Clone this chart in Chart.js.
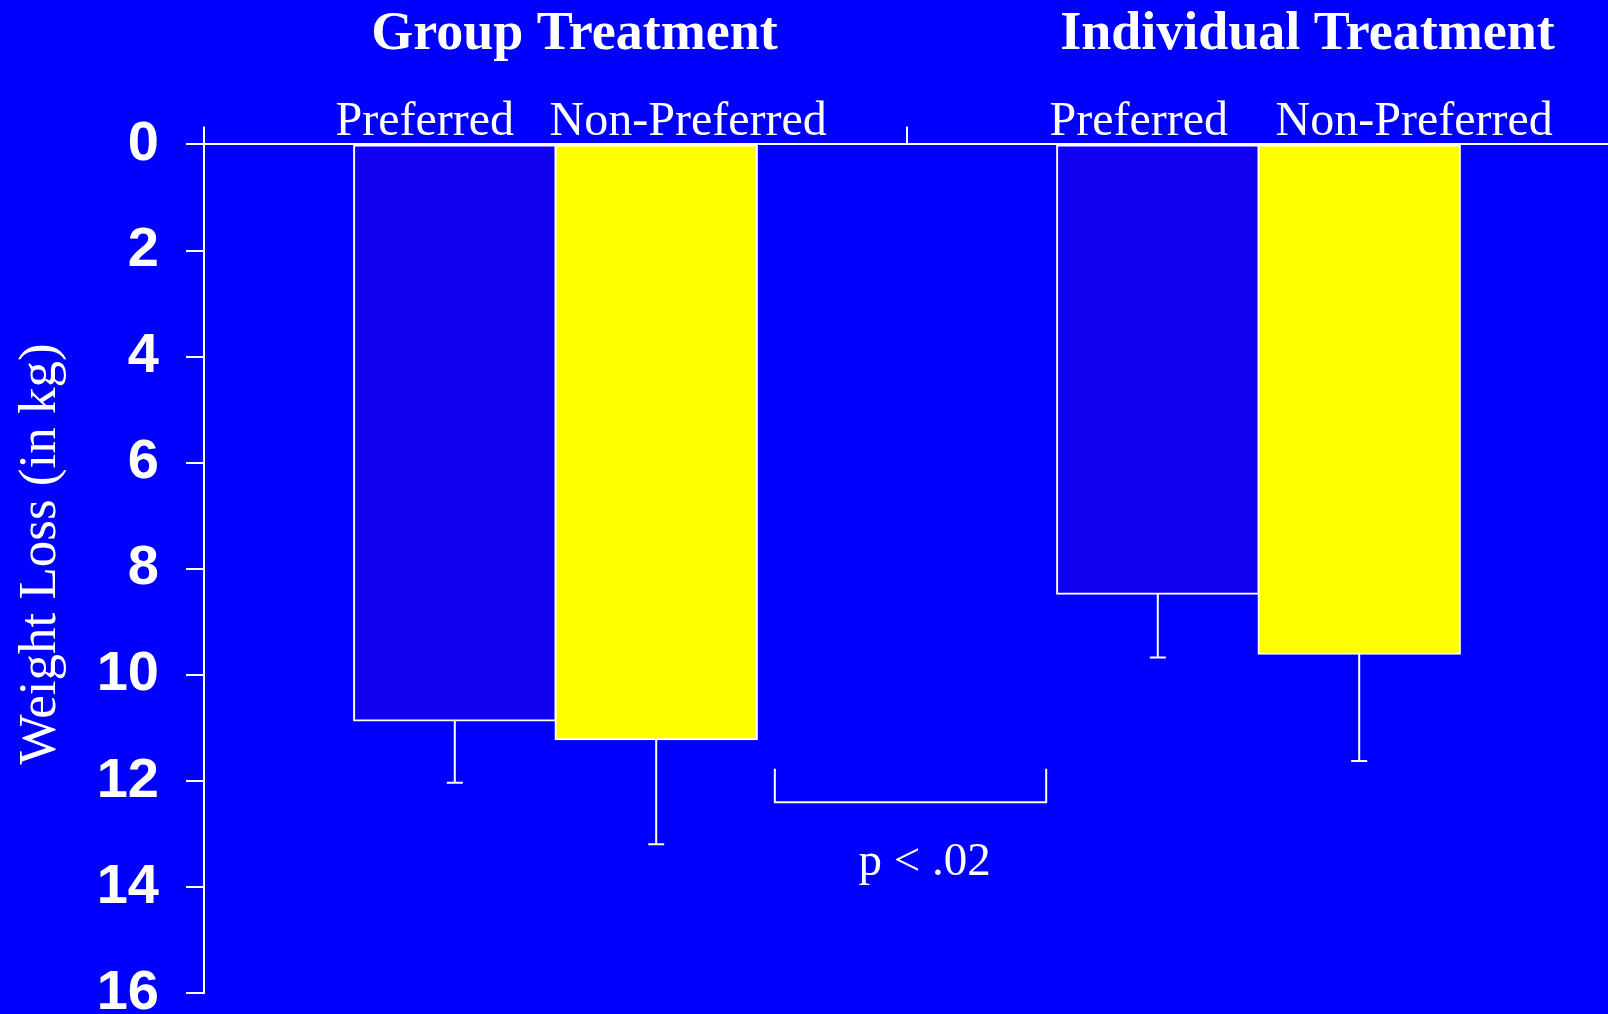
<!DOCTYPE html>
<html>
<head>
<meta charset="utf-8">
<script src="https://cdn.jsdelivr.net/npm/chart.js@4.4.0/dist/chart.umd.min.js"></script>
<style>
  html, body { margin: 0; padding: 0; background: #0000ff; overflow: hidden; width: 1608px; height: 1014px; }
  canvas { display: block; }
</style>
</head>
<body>
<canvas id="bar-chart" width="1620" height="1060"></canvas>
<script>
// weight loss (kg)
const groups = ["Group Treatment", "Individual Treatment"];
const seriesNames = ["Preferred", "Non-Preferred"];
const preferred = [10.86, 8.47];
const nonPreferred = [11.21, 9.60];
const preferredErr = [1.17, 1.20];
const nonPreferredErr = [1.98, 2.02];
const yTicks = [0, 2, 4, 6, 8, 10, 12, 14, 16];
const yTitle = "Weight Loss (in kg)";
// significance bracket between the two non-preferred bars
const bracketX = [0.312, 0.698];
const bracketY = [11.77, 12.40];
const pLabel = "p < .02";
const pPos = [0.525, 13.77];

// hand tuned text offsets (px) from the category / bar centres
const groupTitleShift = [19, 49];
const seriesLabelShift = [[-30, -19], [32, 55]];

const extras = {
  id: 'extras',
  afterDatasetsDraw(chart) {
    const ctx = chart.ctx, xs = chart.scales.x, ys = chart.scales.y;
    ctx.save();
    ctx.strokeStyle = '#fff';
    ctx.fillStyle = '#fff';
    ctx.lineWidth = 2;

    // error whiskers (downward only)
    [preferredErr, nonPreferredErr].forEach((errs, d) => {
      chart.getDatasetMeta(d).data.forEach((bar, i) => {
        const v = chart.data.datasets[d].data[i];
        const y0 = ys.getPixelForValue(v), y1 = ys.getPixelForValue(v + errs[i]);
        ctx.beginPath();
        ctx.moveTo(bar.x, y0);
        ctx.lineTo(bar.x, y1);
        ctx.moveTo(bar.x - 8, y1);
        ctx.lineTo(bar.x + 8, y1);
        ctx.stroke();
      });
    });

    // bracket + p value
    const bx0 = xs.getPixelForValue(bracketX[0]), bx1 = xs.getPixelForValue(bracketX[1]);
    const by0 = ys.getPixelForValue(bracketY[0]), by1 = ys.getPixelForValue(bracketY[1]);
    ctx.beginPath();
    ctx.moveTo(bx0, by0);
    ctx.lineTo(bx0, by1);
    ctx.lineTo(bx1, by1);
    ctx.lineTo(bx1, by0);
    ctx.stroke();

    ctx.textAlign = 'center';
    ctx.textBaseline = 'alphabetic';
    ctx.font = '47px "Liberation Serif"';
    ctx.fillText(pLabel, xs.getPixelForValue(pPos[0]), ys.getPixelForValue(pPos[1]));

    // series labels over each bar
    ctx.font = '48px "Liberation Serif"';
    chart.data.datasets.forEach((ds, d) => {
      chart.getDatasetMeta(d).data.forEach((bar, i) => {
        ctx.fillText(seriesNames[d], bar.x + seriesLabelShift[d][i], 135);
      });
    });

    // group headings
    ctx.font = 'bold 54px "Liberation Serif"';
    groups.forEach((g, i) => {
      ctx.fillText(g, xs.getPixelForValue(i) + groupTitleShift[i], 49);
    });

    // y axis title
    ctx.font = '53px "Liberation Serif"';
    ctx.textBaseline = 'middle';
    ctx.translate(41, ys.getPixelForValue(7.72));
    ctx.rotate(-Math.PI / 2);
    ctx.fillText(yTitle, 0, 0);
    ctx.restore();
  }
};

new Chart(document.getElementById("bar-chart"), {
  type: 'bar',
  data: {
    labels: groups,
    datasets: [
      {
        label: seriesNames[0],
        data: preferred,
        backgroundColor: "#1000f0",
        borderColor: "#ffffff",
        borderWidth: 2,
        borderSkipped: false,
        inflateAmount: 1
      },
      {
        label: seriesNames[1],
        data: nonPreferred,
        backgroundColor: "#ffff00",
        borderColor: "#ffffff",
        borderWidth: 2,
        borderSkipped: false,
        inflateAmount: 1
      }
    ]
  },
  plugins: [extras],
  options: {
    responsive: false,
    animation: false,
    categoryPercentage: 0.573,
    barPercentage: 1,
    layout: { padding: { top: 126.4, left: 69.7, right: 10, bottom: 66.7 } },
    plugins: { legend: { display: false }, tooltip: { enabled: false } },
    scales: {
      x: {
        position: 'top',
        offset: true,
        ticks: { display: false },
        grid: { display: true, offset: true, drawOnChartArea: false, drawTicks: true, tickLength: 18, color: '#ffffff', lineWidth: 2 },
        border: { display: true, color: '#ffffff', width: 2 }
      },
      y: {
        reverse: true,
        min: yTicks[0],
        max: yTicks[yTicks.length - 1],
        afterBuildTicks: (scale) => { scale.ticks = yTicks.map(v => ({ value: v })); },
        ticks: {
          color: '#ffffff',
          padding: 27,
          font: { family: '"Liberation Sans"', size: 56, weight: 'bold' }
        },
        grid: { display: true, drawOnChartArea: false, drawTicks: true, tickLength: 18, color: '#ffffff', lineWidth: 2 },
        border: { display: true, color: '#ffffff', width: 2 }
      }
    }
  }
});
</script>
</body>
</html>
